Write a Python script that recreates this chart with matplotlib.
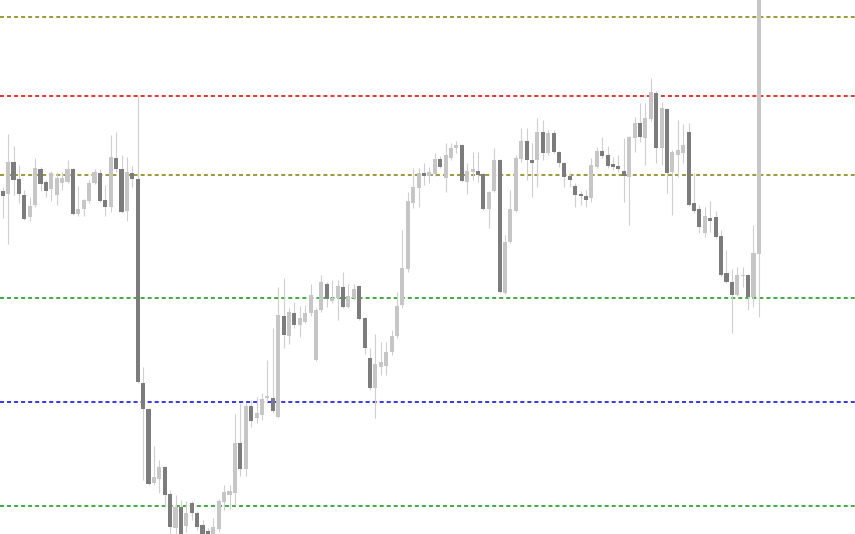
import numpy as np
import matplotlib.pyplot as plt

# candle values (pixel rows from the top, so smaller = higher)
opens_px = [191, 194, 162, 179, 195, 217, 205, 169, 182, 189, 195, 183, 182, 169, 214, 209, 201, 183, 173, 200,
            207, 158, 169, 211, 173, 179, 383, 409, 483, 479, 467, 494, 528, 507, 526, 503, 513, 525, 531, 534,
            529, 502, 495, 493, 443, 469, 406, 418, 415, 398, 398, 417, 316, 336, 313, 325, 322, 313, 360, 310,
            284, 301, 298, 287, 307, 298, 286, 318, 358, 388, 367, 366, 352, 336, 305, 269, 203, 188, 173, 176,
            174, 159, 178, 158, 148, 145, 182, 172, 171, 174, 209, 191, 160, 293, 242, 211, 159, 141, 160, 160,
            132, 153, 133, 152, 163, 176, 186, 194, 196, 198, 167, 151, 155, 164, 166, 171, 177, 138, 123, 138,
            119, 93, 148, 109, 172, 155, 153, 132, 203, 209, 233, 218, 217, 236, 273, 282, 295, 276, 275, 297,
            254]
highs_px = [187, 134, 146, 165, 190, 197, 158, 167, 180, 171, 172, 172, 160, 168, 186, 199, 180, 169, 169, 185,
            135, 132, 155, 157, 166, 96, 367, 408, 446, 460, 466, 490, 495, 500, 501, 501, 511, 520, 528, 518,
            499, 485, 485, 414, 403, 403, 400, 397, 393, 360, 328, 287, 278, 308, 302, 306, 305, 284, 308, 275,
            282, 280, 280, 272, 284, 284, 285, 317, 348, 334, 342, 342, 330, 292, 230, 192, 168, 168, 163, 167,
            153, 156, 143, 143, 141, 144, 163, 152, 152, 173, 191, 148, 159, 235, 190, 155, 128, 128, 143, 118,
            120, 130, 130, 151, 162, 173, 183, 191, 190, 158, 147, 137, 146, 157, 155, 138, 136, 117, 103, 103,
            78, 91, 102, 108, 150, 120, 124, 123, 173, 205, 207, 201, 211, 230, 250, 269, 267, 267, 274, 225,
            -20]
lows_px = [218, 244, 195, 203, 220, 221, 207, 191, 197, 201, 205, 190, 183, 215, 216, 216, 203, 184, 202, 216,
           212, 172, 213, 221, 187, 383, 480, 485, 485, 493, 507, 540, 540, 545, 532, 520, 530, 538, 538, 540,
           532, 510, 509, 505, 476, 476, 427, 423, 420, 402, 413, 418, 348, 344, 328, 337, 323, 316, 361, 312,
           307, 303, 320, 308, 308, 300, 320, 354, 390, 418, 375, 375, 355, 338, 308, 272, 208, 207, 185, 183,
           176, 168, 192, 160, 153, 182, 194, 180, 182, 210, 228, 192, 293, 294, 243, 212, 162, 180, 197, 187,
           160, 155, 153, 167, 187, 187, 207, 205, 207, 202, 168, 158, 168, 170, 172, 202, 225, 152, 142, 165,
           121, 163, 165, 193, 215, 177, 163, 206, 213, 233, 237, 232, 238, 276, 283, 333, 296, 287, 310, 307,
           317]
closes_px = [196, 162, 180, 194, 219, 206, 168, 184, 191, 173, 178, 178, 169, 214, 209, 200, 183, 172, 201, 207,
             157, 169, 212, 172, 179, 382, 409, 484, 477, 467, 495, 527, 507, 540, 513, 513, 527, 534, 534, 527,
             501, 492, 491, 443, 469, 406, 421, 413, 399, 396, 411, 315, 335, 312, 325, 318, 313, 295, 310, 282,
             299, 298, 286, 307, 296, 289, 319, 348, 388, 364, 362, 352, 336, 306, 268, 201, 187, 173, 176, 172,
             159, 167, 155, 148, 145, 181, 171, 169, 175, 209, 192, 160, 292, 242, 209, 158, 141, 160, 163, 132,
             153, 133, 152, 163, 177, 180, 195, 196, 200, 165, 151, 156, 166, 167, 169, 176, 137, 123, 137, 118,
             92, 148, 108, 173, 152, 150, 145, 205, 211, 227, 216, 221, 237, 275, 282, 295, 275, 275, 297, 253,
             -5]

# horizontal levels (pixel rows) and their colours
level_px = [17, 96, 175, 298, 402, 506]
level_colors = ["#8e8e1e", "#ee1616", "#8e8e1e", "#26a326", "#1a1aff", "#26a326"]

H = 534


def to_price(v):
    return H - np.array(v, dtype=float)


o = to_price(opens_px)
hi = to_price(highs_px)
lo = to_price(lows_px)
c = to_price(closes_px)
levels = to_price(level_px)
x = np.arange(len(o))

fig = plt.figure(figsize=(8.55, 5.34), dpi=100)
ax = fig.add_axes([0, 0, 1, 1])
ax.set_xlim(-0.5, 157.8)
ax.set_ylim(0, H)
ax.axis("off")

for lv, col in zip(levels, level_colors):
    ax.axhline(lv, color=col, lw=1.25, dashes=(2.3, 1.75), zorder=1)

up = c >= o
dark = "#7c7c7c"
light = "#c6c6c6"
ax.vlines(x, lo, hi, color="#cfcfcf", lw=0.8, zorder=2)
bottoms = np.minimum(o, c)
heights = np.maximum(np.abs(c - o), 1.2)
ax.bar(x[up], heights[up], bottom=bottoms[up], width=0.76, color=light, zorder=3)
ax.bar(x[~up], heights[~up], bottom=bottoms[~up], width=0.76, color=dark, zorder=3)

fig.savefig("out.png", dpi=100, facecolor="white")
